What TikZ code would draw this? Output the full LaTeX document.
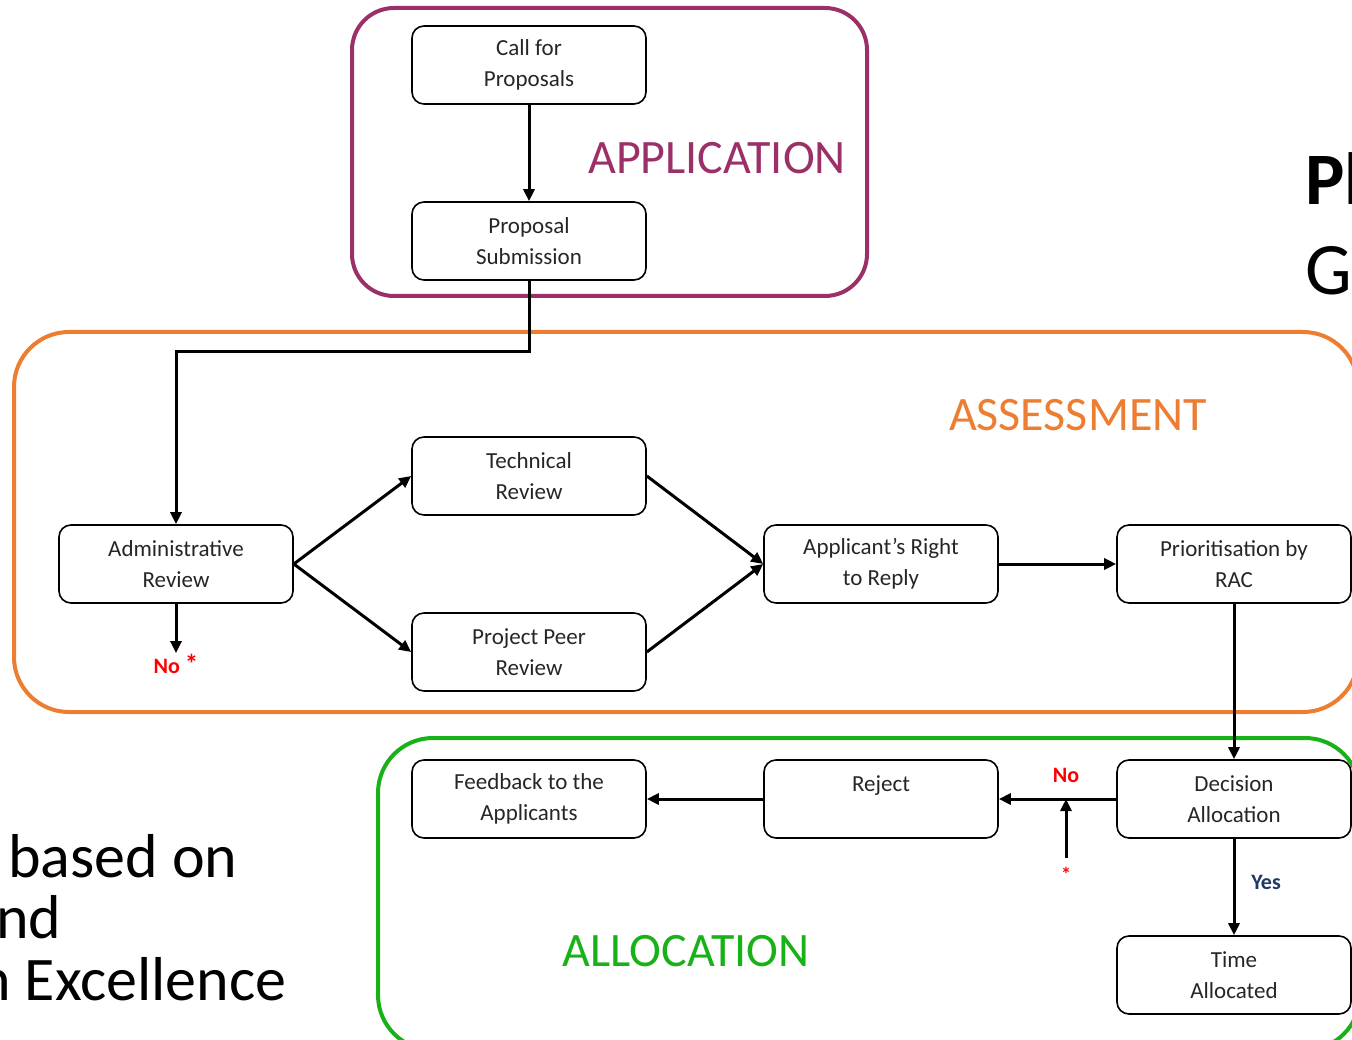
\documentclass[tikz,border=0pt]{standalone}
\usepackage{fontspec}
\setmainfont{Carlito}
\usetikzlibrary{arrows.meta}
\definecolor{appc}{RGB}{155,48,104}
\definecolor{assc}{RGB}{237,125,49}
\definecolor{allc}{RGB}{24,178,24}
\definecolor{yesc}{RGB}{31,56,100}
\definecolor{labred}{RGB}{255,0,0}
\begin{document}
\begin{tikzpicture}[x=1pt,y=-1pt,
  box/.style={draw, line width=1.6pt, rounded corners=12pt, minimum width=234pt,
    minimum height=78pt, align=center, inner sep=0pt,
    font=\fontsize{23}{31}\selectfont, text=black!85},
  conn/.style={line width=3pt, -{Triangle[length=12pt,width=11pt]}},
  group/.style={line width=4pt, rounded corners=50pt},
  grouptitle/.style={font=\fontsize{48}{50}\selectfont},
  lab/.style={font=\bfseries\fontsize{22}{24}\selectfont, inner sep=1pt},
  bigtext/.style={font=\fontsize{62}{62}\selectfont, anchor=base west, inner sep=0pt}
]
\useasboundingbox (0,0) rectangle (1352,1040);
\clip (0,0) rectangle (1352,1040);

% group frames
\draw[group, rounded corners=42pt, appc] (352,8) rectangle (867,296);
\draw[group, rounded corners=55pt, assc] (14,332) rectangle (1358,712);
\draw[group, rounded corners=55pt, allc] (378,738) rectangle (1360,1050);

% group titles
\node[grouptitle, text=appc] (tapp) at (717,158) {APPLICATION};
\node[grouptitle, text=assc] (tass) at (1078,415) {ASSESSMENT};
\node[grouptitle, text=allc] (tall) at (686,951) {ALLOCATION};

% boxes
\node[box] (cfp) at (529,65) {Call for\\Proposals};
\node[box] (ps) at (529,241) {Proposal\\Submission};
\node[box] (tr) at (529,476) {Technical\\Review};
\node[box] (ppr) at (529,652) {Project Peer\\Review};
\node[box] (ar) at (176,564) {Administrative\\Review};
\node[box] (arr) at (881,564) {Applicant’s Right\\to Reply};
\node[box] (prio) at (1234,564) {Prioritisation by\\RAC};
\node[box] (dec) at (1234,799) {Decision\\Allocation};
\node[box] (time) at (1234,975) {Time\\Allocated};
\node[box] (rej) at (881,799) {Reject\\\mbox{}};
\node[box] (fb) at (529,799) {Feedback to the\\Applicants};

% labels
\node[lab, text=labred] (noa) at (176,664) {No {\fontsize{27}{27}\selectfont*}};
\node[lab, text=labred] (nod) at (1066,775) {No};
\node[lab, text=labred, font=\bfseries\fontsize{20}{20}\selectfont] (star) at (1066,874) {*};
\node[lab, text=yesc] (yes) at (1266,882) {Yes};

% connectors
\draw[conn] (cfp) -- (ps);
\draw[conn] (ps.south) -- ++(0,71) -| (ar.north);
\draw[conn] (ar.south) -- (noa.north);
\draw[conn] (ar.east) -- (tr.west);
\draw[conn] (ar.east) -- (ppr.west);
\draw[conn] (tr.east) -- (arr.west);
\draw[conn] (ppr.east) -- (arr.west);
\draw[conn] (arr.east) -- (prio.west);
\draw[conn] (prio.south) -- (dec.north);
\draw[conn] (dec.west) -- (rej.east);
\draw[conn] ([yshift=8pt]star.north) -- (star.north |- dec.west);
\draw[conn] (rej.west) -- (fb.east);
\draw[conn] (dec.south) -- (time.north);

% partially visible surrounding slide text
\node[bigtext] (t1) at (8,877) {based on};
\node[bigtext] (t2) at (-4,938) {nd};
\node[bigtext] (t3) at (-22,1000) {n Excellence};
\node[font=\bfseries\fontsize{74}{76}\selectfont, anchor=base west, inner sep=0pt] (t4) at (1305,205) {Pl};
\node[font=\fontsize{74}{76}\selectfont, anchor=base west, inner sep=0pt] (t5) at (1305,295) {G};
\end{tikzpicture}
\end{document}
